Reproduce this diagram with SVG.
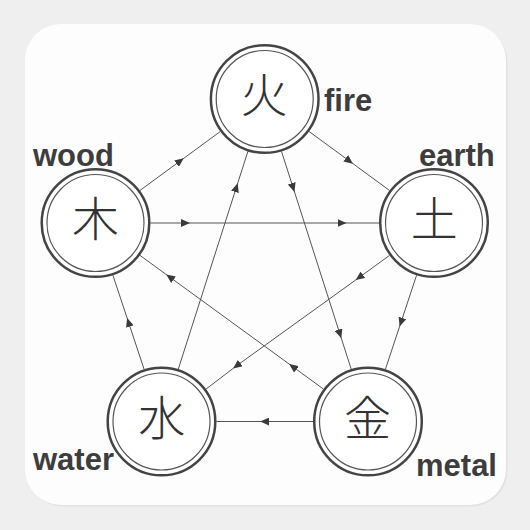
<svg xmlns="http://www.w3.org/2000/svg" width="530" height="530" viewBox="0 0 530 530">
<style>
.ring-o{fill:#fff;stroke:#444;stroke-width:2.5}
.ring-i{fill:none;stroke:#555;stroke-width:1.2}
.kanji{font-family:"Noto Sans CJK JP","Noto Sans CJK SC",sans-serif;font-size:47px;font-weight:300;fill:#333;text-anchor:middle}
.lbl{font-family:"Liberation Sans",Arial,sans-serif;font-size:31px;font-weight:bold;fill:#3d3d3d}
.conn{fill:none;stroke:#555;stroke-width:1;marker-mid:url(#ah)}
</style>
<defs>
<marker id="ah" viewBox="0 0 9 8" refX="4.5" refY="4" markerWidth="9" markerHeight="8" markerUnits="userSpaceOnUse" orient="auto">
<path d="M0,0 L9,4 L0,8 z" fill="#3a3a3a"/>
</marker>
</defs>
<rect x="0" y="0" width="530" height="530" fill="#efefef"/>
<rect x="26.5" y="25.5" width="481" height="481" rx="36" fill="#e2e2e2"/>
<rect x="25" y="24" width="481" height="481" rx="36" fill="#fdfdfd"/>
<g id="connectors">
<path class="conn" d="M139.9,190.5 L180.1,161 L220.3,131.5"/>
<path class="conn" d="M309.1,131.5 L349.35,161 L389.6,190.5"/>
<path class="conn" d="M416.6,275.2 L401,322.25 L385.4,369.3"/>
<path class="conn" d="M313,421.5 L264.75,421.5 L216.5,421.5"/>
<path class="conn" d="M144.1,369.3 L128.5,322.25 L112.9,275.2"/>
<path class="conn" d="M150.5,223 L185.5,223 L342,223 L379,223"/>
<path class="conn" d="M389.5,255.4 L359.3,277.4 L236.7,365.7 L206,389.1"/>
<path class="conn" d="M323.5,389.1 L292.8,366.7 L169.9,277.2 L140,255.4"/>
<path class="conn" d="M281.5,151.4 L293.1,187.6 L339.9,333.9 L351.2,369.1"/>
<path class="conn" d="M178.3,369.1 L236.3,187.6 L247.9,151.4"/>
</g>
<g id="fire">
<circle class="ring-o" cx="264.7" cy="99" r="53.8"/>
<circle class="ring-i" cx="264.7" cy="99" r="48.5"/>
<text class="kanji" x="264.2" y="112">火</text>
<text class="lbl" x="324" y="111">fire</text>
</g>
<g id="wood">
<circle class="ring-o" cx="95.5" cy="223" r="53.8"/>
<circle class="ring-i" cx="95.5" cy="223" r="48.5"/>
<text class="kanji" x="95.5" y="236">木</text>
<text class="lbl" x="33" y="165.7">wood</text>
</g>
<g id="earth">
<circle class="ring-o" cx="434" cy="223" r="53.8"/>
<circle class="ring-i" cx="434" cy="223" r="48.5"/>
<text class="kanji" x="434.2" y="235.5">土</text>
<text class="lbl" x="419" y="165.7">earth</text>
</g>
<g id="water">
<circle class="ring-o" cx="161.5" cy="421.5" r="53.8"/>
<circle class="ring-i" cx="161.5" cy="421.5" r="48.5"/>
<text class="kanji" x="161.7" y="435">水</text>
<text class="lbl" x="33" y="470">water</text>
</g>
<g id="metal">
<circle class="ring-o" cx="368" cy="421.5" r="53.8"/>
<circle class="ring-i" cx="368" cy="421.5" r="48.5"/>
<text class="kanji" x="367.6" y="434.5">金</text>
<text class="lbl" x="416" y="475.7">metal</text>
</g>
</svg>
